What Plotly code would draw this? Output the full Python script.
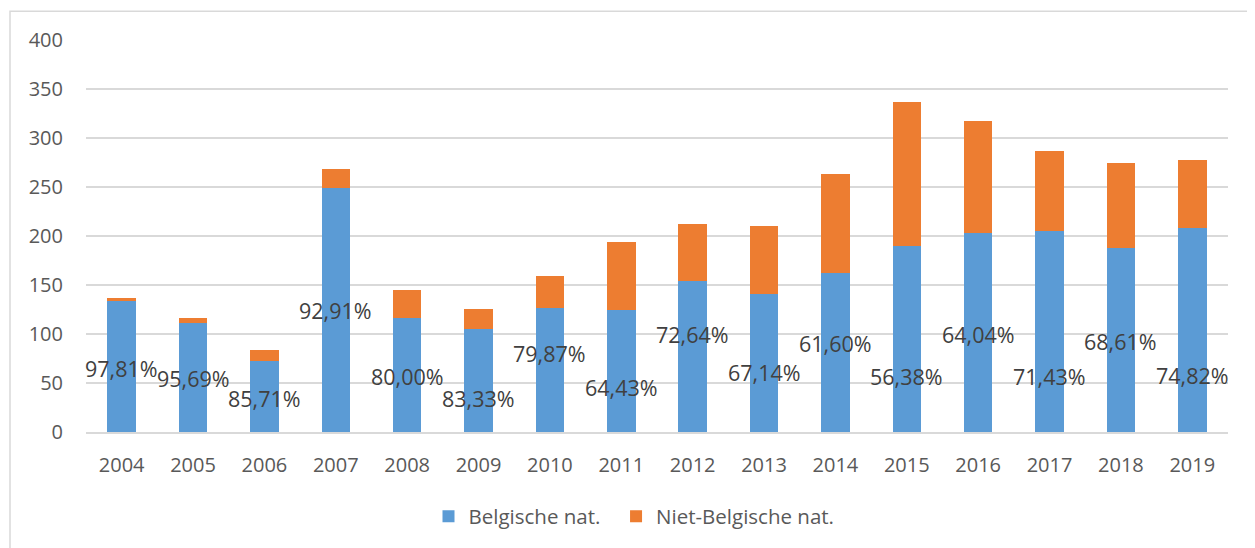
import plotly.graph_objects as go

years = ["2004", "2005", "2006", "2007", "2008", "2009", "2010", "2011",
         "2012", "2013", "2014", "2015", "2016", "2017", "2018", "2019"]
belgisch = [134, 111, 72, 249, 116, 105, 127, 125, 154, 141, 162, 190, 203, 205, 188, 208]
niet_belgisch = [3, 5, 12, 19, 29, 21, 32, 69, 58, 69, 101, 147, 114, 82, 86, 70]
percent_labels = ["97,81%", "95,69%", "85,71%", "92,91%", "80,00%", "83,33%", "79,87%", "64,43%",
                  "72,64%", "67,14%", "61,60%", "56,38%", "64,04%", "71,43%", "68,61%", "74,82%"]
# vertical anchor (in axis units) of each percentage label, as placed in the source chart
label_y = [65, 55, 34, 124, 57, 34, 80, 45, 99, 61, 90, 57, 99, 57, 92, 58]
y_ticks = [0, 50, 100, 150, 200, 250, 300, 350, 400]

BLUE = "#5B9BD5"
ORANGE = "#ED7D31"
GRID = "#D9D9D9"
FONT = "Open Sans"

W, H = 1247, 540
L, R, T, B = 78, 27, 32, 113
PW = W - L - R
PH = H - T - B

fig = go.Figure()
fig.add_trace(go.Bar(x=years, y=belgisch, name="Belgische nat.\u00a0\u00a0",
                     marker=dict(color=BLUE, line=dict(width=0))))
fig.add_trace(go.Bar(x=years, y=niet_belgisch, name="Niet-Belgische nat.",
                     marker=dict(color=ORANGE, line=dict(width=0))))

# category serial index is used so "2004" is not read as a serial number
for i, (txt, ly) in enumerate(zip(percent_labels, label_y)):
    fig.add_annotation(x=i, y=ly, text=txt, showarrow=False,
                       xanchor="center", yanchor="middle",
                       font=dict(family=FONT, size=21.5, color="#404040"))

# outer chart border
fig.add_shape(type="rect", xref="paper", yref="paper",
              x0=(2 - L) / PW, x1=(W + 20 - L) / PW,
              y0=-(B + 20) / PH, y1=1 + (T - 3) / PH,
              line=dict(color=GRID, width=1.5), fillcolor="rgba(0,0,0,0)", layer="below")

fig.update_layout(
    barmode="stack",
    bargap=0.6,
    width=W, height=H,
    margin=dict(l=L, r=R, t=T, b=B),
    paper_bgcolor="white", plot_bgcolor="white",
    font=dict(family=FONT, size=20, color="#595959"),
    showlegend=True,
    legend=dict(orientation="h", x=(626 - L) / PW, y=-85 / PH, xanchor="center", yanchor="middle",
                font=dict(family=FONT, size=20.5, color="#595959"),
                traceorder="normal", itemwidth=30),
)
fig.update_xaxes(type="category", range=[-0.5, len(years) - 0.5],
                 showgrid=False, showline=True, linecolor=GRID, linewidth=1.5,
                 ticks="", ticklabelstandoff=14,
                 tickfont=dict(family=FONT, size=20, color="#595959"))
fig.update_yaxes(range=[0, 400], tickvals=y_ticks, showgrid=True, gridcolor=GRID,
                 gridwidth=1.5, zeroline=False, showline=False, ticks="",
                 ticklabelstandoff=22,
                 tickfont=dict(family=FONT, size=20, color="#595959"))

fig.write_html("out.html")
